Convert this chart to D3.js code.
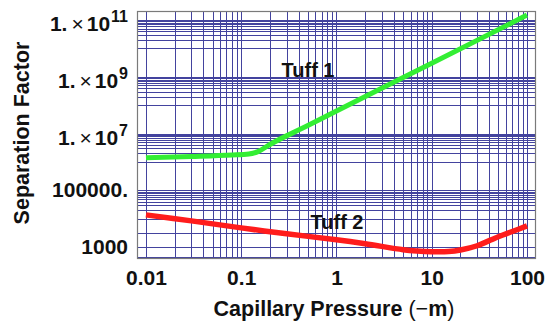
<!DOCTYPE html>
<html lang="en">
<head>
<meta charset="utf-8">
<title>Separation factor</title>
<script src="https://cdn.jsdelivr.net/npm/d3@7"></script>
<style>
body { margin: 0; background: #fff; }
svg { display: block; }
text { font-family: Arial, "Liberation Sans", sans-serif; font-weight: bold; fill: #111; }
</style>
</head>
<body>
<script>
// data
var pressure1 = [0.01, 0.03, 0.08, 0.12, 0.15, 0.2, 0.5, 1, 10, 100];
var tuff1 = [1.4e6, 1.55e6, 1.75e6, 1.9e6, 2.3e6, 4.1e6, 1.9e7, 6.2e7, 3e9, 1.5e11];

var pressure2 = [0.01, 0.03, 0.1, 0.3, 1, 2, 5, 7, 10, 15, 20, 30, 50, 70, 100];
var tuff2 = [1.35e4, 8.3e3, 4.7e3, 2.9e3, 1.8e3, 1.3e3, 800, 720, 680, 690, 780, 1.1e3, 2.3e3, 3.5e3, 5.5e3];

var xTicks = [0.01, 0.1, 1, 10, 100];
var xTickLabels = ["0.01", "0.1", "1", "10", "100"];
var yTicks = [1e3, 1e5, 1e7, 1e9, 1e11];
var yTickLabels = ["1000", "100000.", "1.×10^7", "1.×10^9", "1.×10^11"];
var yGridExtra = [450, 1000, 3000];

var w = 555, h = 323;
var plotLeft = 137, plotRight = 535, plotTop = 11, plotBottom = 258;

var svg = d3.select("body").append("svg").attr("width", w).attr("height", h);

var x = d3.scaleLog().domain([Math.pow(10, -2.094), Math.pow(10, 2.084)]).range([plotLeft, plotRight]);
var y = d3.scaleLog().domain([Math.pow(10, 2.61), Math.pow(10, 11.32)]).range([plotBottom, plotTop]);

// vertical grid: every 1..9 of each decade
var xGrid = [];
for (var e = -2; e <= 1; e++) {
    for (var k = 1; k <= 9; k++) xGrid.push(k * Math.pow(10, e));
}
xGrid.push(100);

// horizontal grid: each labelled decade plus the decade below it
var yGrid = yGridExtra.slice();
yTicks.slice(1).forEach(function(m) {
    for (var k = 1; k <= 10; k++) yGrid.push(m * k / 10);
});

var grid = svg.append("g").attr("stroke", "#23238e").attr("stroke-width", 1).attr("opacity", 0.85);
grid.selectAll(".gx").data(xGrid).enter().append("line")
    .attr("x1", function(d) { return Math.round(x(d)) + 0.5; })
    .attr("x2", function(d) { return Math.round(x(d)) + 0.5; })
    .attr("y1", plotTop).attr("y2", plotBottom);
grid.selectAll(".gy").data(yGrid).enter().append("line")
    .attr("y1", function(d) { return Math.round(y(d)) + 0.5; })
    .attr("y2", function(d) { return Math.round(y(d)) + 0.5; })
    .attr("x1", plotLeft).attr("x2", plotRight);

// frame
svg.append("rect")
    .attr("x", plotLeft + 0.5).attr("y", plotTop + 0.5)
    .attr("width", plotRight - plotLeft).attr("height", plotBottom - plotTop)
    .attr("fill", "none").attr("stroke", "#7a7a7a").attr("stroke-width", 1.2);

// curves
var line = d3.line()
    .x(function(d) { return x(d[0]); })
    .y(function(d) { return y(d[1]); })
    .curve(d3.curveMonotoneX);

svg.append("path")
    .datum(d3.zip(pressure1, tuff1))
    .attr("d", line)
    .attr("fill", "none").attr("stroke", "#33ee33").attr("stroke-width", 5);

svg.append("path")
    .datum(d3.zip(pressure2, tuff2))
    .attr("d", line.curve(d3.curveCatmullRom.alpha(0.5)))
    .attr("fill", "none").attr("stroke", "#ff1c1c").attr("stroke-width", 5.5);

// x axis labels
var xAxis = d3.axisBottom(x).tickValues(xTicks)
    .tickFormat(function(d, i) { return xTickLabels[i]; })
    .tickSize(0).tickPadding(0);
var gx = svg.append("g").attr("transform", "translate(0," + 285 + ")").call(xAxis);
gx.select(".domain").remove();
gx.selectAll("text").attr("dy", 0).attr("font-size", 21)
    .style("font-family", "Arial, 'Liberation Sans', sans-serif").style("font-weight", "bold").attr("fill", "#111");

// y axis labels
var gy = svg.append("g");
yTicks.forEach(function(v, i) {
    var lab = yTickLabels[i];
    var t = gy.append("text").attr("text-anchor", "end").attr("x", 128).attr("font-size", 21);
    if (lab.indexOf("^") < 0) {
        t.attr("y", y(v) + 7).text(lab);
    } else {
        var parts = lab.split("^");
        var base = parts[0].split("×");
        t.attr("y", y(v) + 11);
        t.append("tspan").text(base[0]);
        t.append("tspan").style("font-weight", "normal").attr("dx", 4).text("×");
        t.append("tspan").attr("dx", 3).text(base[1]);
        t.append("tspan").attr("font-size", 16).attr("dy", -9).attr("dx", 1).text(parts[1]);
    }
});

// series labels
svg.append("text").attr("x", 308).attr("y", 77).attr("text-anchor", "middle").attr("font-size", 20).text("Tuff 1");
svg.append("text").attr("x", 337).attr("y", 229).attr("text-anchor", "middle").attr("font-size", 20).text("Tuff 2");

// axis titles
var xt = svg.append("text").attr("x", 334).attr("y", 316).attr("text-anchor", "middle").attr("font-size", 21.5);
xt.append("tspan").text("Capillary Pressure ");
xt.append("tspan").style("font-weight", "normal").text("(");
xt.append("tspan").style("font-weight", "normal").text("−");
xt.append("tspan").text("m");
xt.append("tspan").style("font-weight", "normal").text(")");

svg.append("text")
    .attr("transform", "translate(29,133) rotate(-90)")
    .attr("text-anchor", "middle").attr("font-size", 21.5)
    .text("Separation Factor");
</script>
</body>
</html>
